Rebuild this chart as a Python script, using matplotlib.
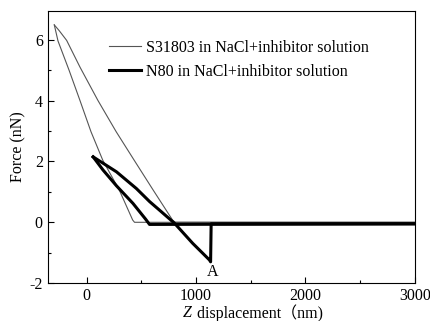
import matplotlib
matplotlib.use('Agg')
import matplotlib.pyplot as plt
from matplotlib.ticker import MultipleLocator

plt.rcParams['font.family'] = ['Liberation Serif', 'Noto Sans CJK SC']
plt.rcParams['axes.unicode_minus'] = False

# S31803 curves (approach = lower thin branch, retract = upper thin branch)
s_app_x = [3000, 438, 421, 300, 148, 40, -61, -160, -261, -295]
s_app_f = [0, 0, 0.075, 1.05, 2.04, 2.98, 4.01, 5.0, 5.96, 6.49]
s_ret_x = [-295, -250, -182, -60, 103, 270, 435, 610, 785, 809, 3000]
s_ret_f = [6.49, 6.3, 5.98, 5.1, 4.01, 2.98, 2.04, 1.05, 0.075, 0, 0]

# N80 curves
n_app_x = [3000, 575, 540, 424, 273, 150, 60]
n_app_f = [-0.05, -0.07, 0.1, 0.62, 1.2, 1.72, 2.15]
n_ret_x = [60, 273, 455, 576, 666, 803, 969, 1070, 1123, 1133, 1138, 3000]
n_ret_f = [2.15, 1.66, 1.11, 0.68, 0.40, -0.03, -0.69, -1.05, -1.24, -1.3, -0.05, -0.05]

fs = 11.5
fig = plt.figure(figsize=(4.3, 3.21), dpi=100)
ax = fig.add_axes([0.111, 0.118, 0.854, 0.848])

ax.plot(s_app_x, s_app_f, color='#555555', lw=0.8, label='S31803 in NaCl+inhibitor solution')
ax.plot(s_ret_x, s_ret_f, color='#555555', lw=0.8)
ax.plot(n_app_x, n_app_f, color='k', lw=2.2, label='N80 in NaCl+inhibitor solution')
ax.plot(n_ret_x, n_ret_f, color='k', lw=2.2)

ax.text(1148, -1.62, 'A', fontsize=fs, ha='center', va='center')

ax.set_xlim(-355, 2990)
ax.set_ylim(-2, 6.95)
ax.set_xticks([0, 1000, 2000, 3000])
ax.set_yticks([-2, 0, 2, 4, 6])
ax.xaxis.set_minor_locator(MultipleLocator(500))
ax.yaxis.set_minor_locator(MultipleLocator(1))
ax.tick_params(which='both', direction='in', top=False, right=False, labelsize=fs)
ax.tick_params(which='major', length=4, width=0.8)
ax.tick_params(which='minor', length=2, width=0.8)

ax.set_ylabel('Force (nN)', fontsize=fs, labelpad=2)

ax.legend(loc='upper left', bbox_to_anchor=(0.129, 0.947), frameon=False,
          fontsize=fs, handlelength=2.0, labelspacing=0.5, handletextpad=0.3)

# x label: italic Z followed by the rest
zt = fig.text(183 / 430, 1 - 313 / 321, 'Z', fontsize=fs, style='italic',
              ha='left', va='center')
fig.canvas.draw()
bb = zt.get_window_extent()
fig.text(bb.x1 / 430 + 0.002, 1 - 313 / 321, ' displacement（nm)', fontsize=fs,
         ha='left', va='center')

fig.savefig('out.png', dpi=100)
